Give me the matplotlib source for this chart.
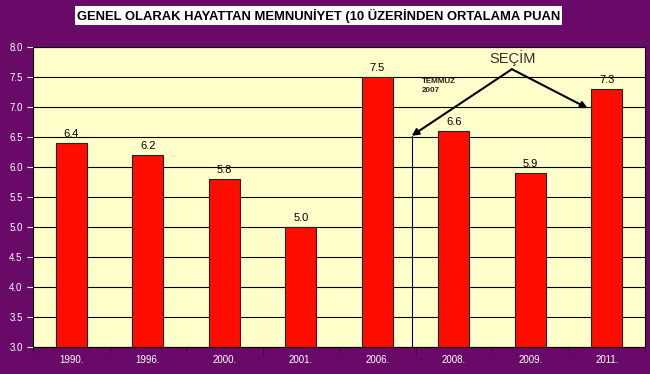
import numpy as np
import matplotlib
matplotlib.use("Agg")
from matplotlib import pyplot as plt
from matplotlib.patches import Rectangle

plt.rcParams['font.family']=['Liberation Sans','DejaVu Sans']

#Chart data
years=['1990.','1996.','2000.','2001.','2006.','2008.','2009.','2011.']
scores=[6.4,6.2,5.8,5.0,7.5,6.6,5.9,7.3]
title='GENEL OLARAK HAYATTAN MEMNUNİYET (10 ÜZERİNDEN ORTALAMA PUAN'

PURPLE='#690a69'

fig=plt.figure(figsize=(6.5,3.74),dpi=100,facecolor=PURPLE)
ax=fig.add_axes([33/650,1-347/374,612/650,300/374])
ax.set_facecolor('#ffffcc')

x=np.arange(len(years))
ax.bar(x,np.array(scores)-3.0,bottom=3.0,width=0.4,color='#ff0d00',edgecolor='#222222',linewidth=0.8,zorder=3)
for xi,v in zip(x,scores):
    ax.text(xi,v+0.06,'%.1f'%v,ha='center',va='bottom',fontsize=8,color='black',zorder=4)

ax.set_xlim(-0.5,len(years)-0.5)
ax.set_ylim(3.0,8.0)
ax.set_yticks(np.arange(3.0,8.01,0.5))
ax.set_yticklabels(['%.1f'%t for t in np.arange(3.0,8.01,0.5)])
ax.yaxis.grid(True,color='black',linewidth=0.8,zorder=1)
ax.set_xticks(x)
ax.set_xticklabels(years)
ax.set_xticks(np.arange(-0.5,len(years)),minor=True)
ax.tick_params(axis='x',which='major',length=0,colors='white',labelsize=7,pad=6)
ax.tick_params(axis='x',which='minor',length=4,color='black')
ax.tick_params(axis='y',colors='white',labelsize=7,length=4)
for t in ax.get_yticklines():
    t.set_color('black')
for s in ax.spines.values():
    s.set_color('black')
    s.set_linewidth(0.8)

#Election marker
ax.plot([4.45,4.45],[3.0,6.52],color='black',linewidth=0.8,zorder=2)
ax.annotate('',xy=(4.45,6.52),xytext=(5.76,7.63),
    arrowprops=dict(arrowstyle='-|>',color='black',lw=1.5,mutation_scale=10,shrinkA=0,shrinkB=0),zorder=5)
ax.annotate('',xy=(6.75,6.98),xytext=(5.76,7.63),
    arrowprops=dict(arrowstyle='-|>',color='black',lw=1.5,mutation_scale=10,shrinkA=0,shrinkB=0),zorder=5)
ax.text(5.77,7.68,'SEÇİM',ha='center',va='bottom',fontsize=10.5,color='#333333')
ax.text(4.58,7.35,'TEMMUZ\n2007',ha='left',va='center',fontsize=5.8,fontweight='bold',color='#222222',linespacing=1.3)

#Title box
fig.patches.append(Rectangle((75/650,1-25/374),487/650,19/374,transform=fig.transFigure,
    facecolor='white',edgecolor='none'))
fig.text(318.5/650,1-15.5/374,title,ha='center',va='center',fontsize=9.4,fontweight='bold',color='black')

plt.savefig('out.png',dpi=100,facecolor=PURPLE)
